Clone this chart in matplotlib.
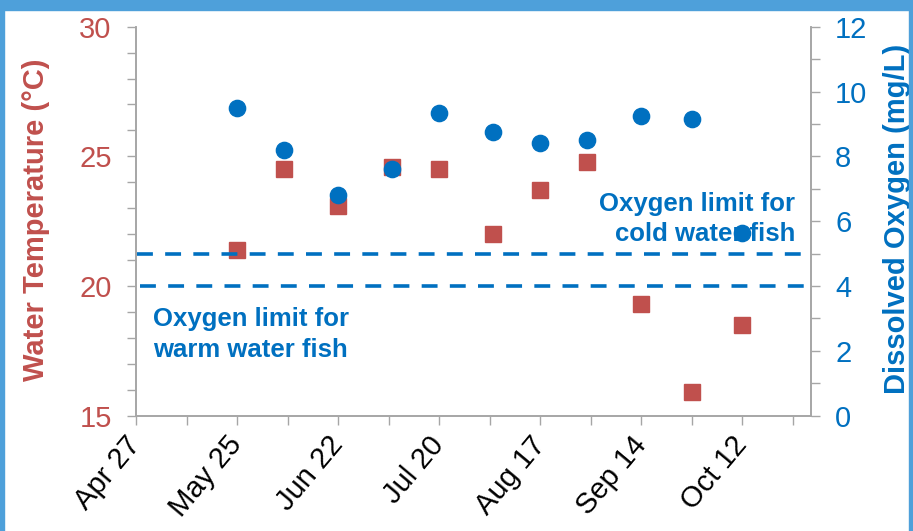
import datetime as dt

import matplotlib
matplotlib.use("Agg")
import matplotlib.dates as mdates
import matplotlib.pyplot as plt
from matplotlib.patches import Rectangle
from matplotlib.ticker import MultipleLocator

plt.rcParams["font.family"] = ["Liberation Sans", "DejaVu Sans"]

# sampling dates (same year throughout)
sample_dates = ["05-25", "06-07", "06-22", "07-07", "07-20", "08-04",
                "08-17", "08-30", "09-14", "09-28", "10-12"]
water_temp = [21.4, 24.5, 23.1, 24.6, 24.5, 22.0, 23.7, 24.8, 19.3, 15.9, 18.5]
dissolved_oxygen = [9.5, 8.2, 6.8, 7.6, 9.35, 8.75, 8.4, 8.5, 9.25, 9.15, 5.65]

cold_limit = 5.0
warm_limit = 4.0

year = 2015
start = dt.date(year, 4, 27)
end = start + dt.timedelta(days=187)
dates = [dt.date(year, int(d[:2]), int(d[3:])) for d in sample_dates]

RED = "#C0504D"
BLUE = "#0070C0"
GRAY = "#A6A6A6"

fig = plt.figure(figsize=(9.13, 5.31), dpi=100)
ax = fig.add_axes([136 / 913, 1 - 415.7 / 531, 674.7 / 913, 389 / 531])
ax2 = ax.twinx()

# temperature on the left axis
ax.plot(dates, water_temp, linestyle="none", marker="s", markersize=11.7,
        color=RED, zorder=3)
ax.set_ylim(15, 30)
ax.yaxis.set_major_locator(MultipleLocator(5))
ax.yaxis.set_minor_locator(MultipleLocator(1))
ax.set_ylabel("Water Temperature (°C)", color=RED, fontsize=21,
              fontweight="bold")
ax.yaxis.set_label_coords(-0.128, 0.503)

# oxygen on the right axis, with the two fish limits
ax2.axhline(cold_limit, xmin=0.002, xmax=0.997, color=BLUE, lw=2.6,
            dashes=(4.4, 3.4), zorder=2)
ax2.axhline(warm_limit, xmin=0.006, xmax=0.997, color=BLUE, lw=2.6,
            dashes=(4.4, 3.4), zorder=2)
ax2.plot(dates, dissolved_oxygen, linestyle="none", marker="o",
         markersize=11.7, color=BLUE, zorder=4)
ax2.set_ylim(0, 12)
ax2.yaxis.set_major_locator(MultipleLocator(2))
ax2.yaxis.set_minor_locator(MultipleLocator(1))
ax2.set_ylabel("Dissolved Oxygen (mg/L)", color=BLUE, fontsize=21,
               fontweight="bold")
ax2.yaxis.set_label_coords(1.107, 0.505)

# date axis: labels every 4 weeks, ticks every 2 weeks
ax.set_xlim(start, end)
major = [start + dt.timedelta(days=28 * i) for i in range(7)]
minor = [start + dt.timedelta(days=14 * i) for i in range(14)]
ax.set_xticks(mdates.date2num(major))
ax.set_xticks(mdates.date2num(minor), minor=True)
ax.xaxis.set_major_formatter(mdates.DateFormatter("%b %-d"))

for a in (ax, ax2):
    a.spines["top"].set_visible(False)
    for s in ("left", "right", "bottom"):
        a.spines[s].set_color(GRAY)
        a.spines[s].set_linewidth(1.2)

ax.tick_params(axis="y", which="both", direction="out", length=6.5,
               width=1, color=GRAY, labelcolor=RED, labelsize=21, pad=11)
ax2.tick_params(axis="y", which="both", direction="out", length=6.5,
                width=1, color=GRAY, labelcolor=BLUE, labelsize=21, pad=11)
ax.tick_params(axis="x", which="both", direction="out", length=6.5,
               width=1, color=GRAY, labelsize=21, pad=11)
for lbl in ax.get_xticklabels():
    lbl.set_rotation(50)
    lbl.set_ha("right")
    lbl.set_va("center")
    lbl.set_rotation_mode("anchor")

ax.text(0.025, 0.279, "Oxygen limit for\nwarm water fish", transform=ax.transAxes,
        ha="left", va="top", color=BLUE, fontsize=18.5, fontweight="bold",
        linespacing=1.35, zorder=1)
ax.text(0.977, 0.574, "Oxygen limit for\ncold water fish", transform=ax.transAxes,
        ha="right", va="top", color=BLUE, fontsize=18.5, fontweight="bold",
        linespacing=1.3, multialignment="right", zorder=1)

# light blue frame
frame = "#4EA0DA"
fig.patches.append(Rectangle((0, 1 - 10 / 531), 1, 10 / 531,
                             transform=fig.transFigure, color=frame))
fig.patches.append(Rectangle((0, 0), 4 / 913, 1,
                             transform=fig.transFigure, color=frame))
fig.patches.append(Rectangle((1 - 4 / 913, 0), 4 / 913, 1,
                             transform=fig.transFigure, color=frame))

fig.savefig("out.png", dpi=100)
